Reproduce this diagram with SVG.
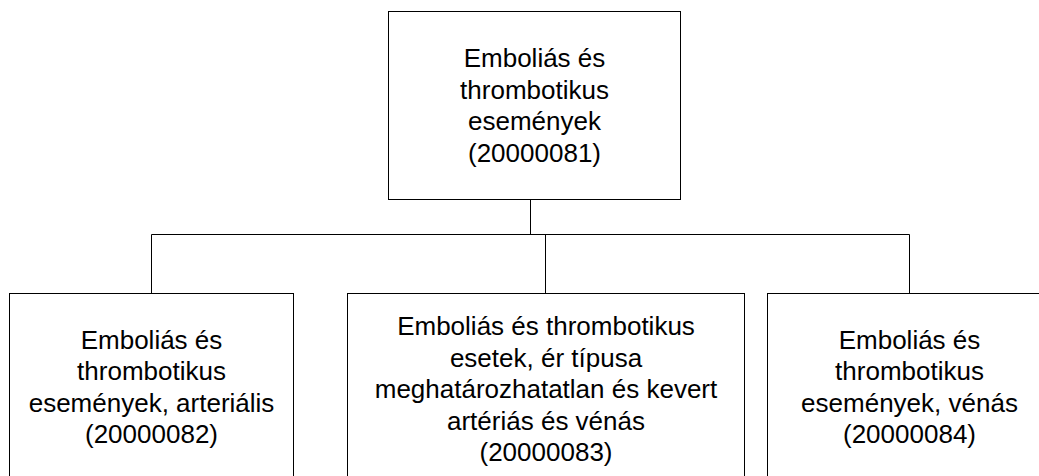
<svg xmlns="http://www.w3.org/2000/svg" width="1039" height="476" viewBox="0 0 1039 476">
<style>
.box{fill:#fff;stroke:#000;stroke-width:1}
.lbl{font-family:"Liberation Sans",Arial,sans-serif;font-size:26px;fill:#000;text-anchor:middle}
.conn{fill:none;stroke:#000;stroke-width:1}
</style>
<rect width="1039" height="476" fill="#fff"/>
<g id="connectors">
<path class="conn" d="M530.5 199.5V234.5M151.5 234.5H909.5M151.5 234.5V293.5M545.5 234.5V293.5M909.5 234.5V293.5"/>
</g>
<g id="node-20000081">
<rect class="box" x="388.5" y="11.5" width="292" height="188"/>
<text class="lbl" x="534.5"><tspan x="534.5" y="67">Emboliás és</tspan><tspan x="534.5" y="99">thrombotikus</tspan><tspan x="534.5" y="130">események</tspan><tspan x="534.5" y="162">(20000081)</tspan></text>
</g>
<g id="node-20000082">
<rect class="box" x="9.5" y="293.5" width="284" height="200"/>
<text class="lbl"><tspan x="151.5" y="349">Emboliás és</tspan><tspan x="151.5" y="380">thrombotikus</tspan><tspan x="151.5" y="412">események, arteriális</tspan><tspan x="151.5" y="443">(20000082)</tspan></text>
</g>
<g id="node-20000083">
<rect class="box" x="347.5" y="293.5" width="397" height="200"/>
<text class="lbl"><tspan x="546" y="335">Emboliás és thrombotikus</tspan><tspan x="546" y="367">esetek, ér típusa</tspan><tspan x="546" y="398">meghatározhatatlan és kevert</tspan><tspan x="546" y="430">artériás és vénás</tspan><tspan x="546" y="461">(20000083)</tspan></text>
</g>
<g id="node-20000084">
<rect class="box" x="767.5" y="293.5" width="284" height="200"/>
<text class="lbl"><tspan x="909.5" y="349">Emboliás és</tspan><tspan x="909.5" y="380">thrombotikus</tspan><tspan x="909.5" y="412">események, vénás</tspan><tspan x="909.5" y="443">(20000084)</tspan></text>
</g>
</svg>
